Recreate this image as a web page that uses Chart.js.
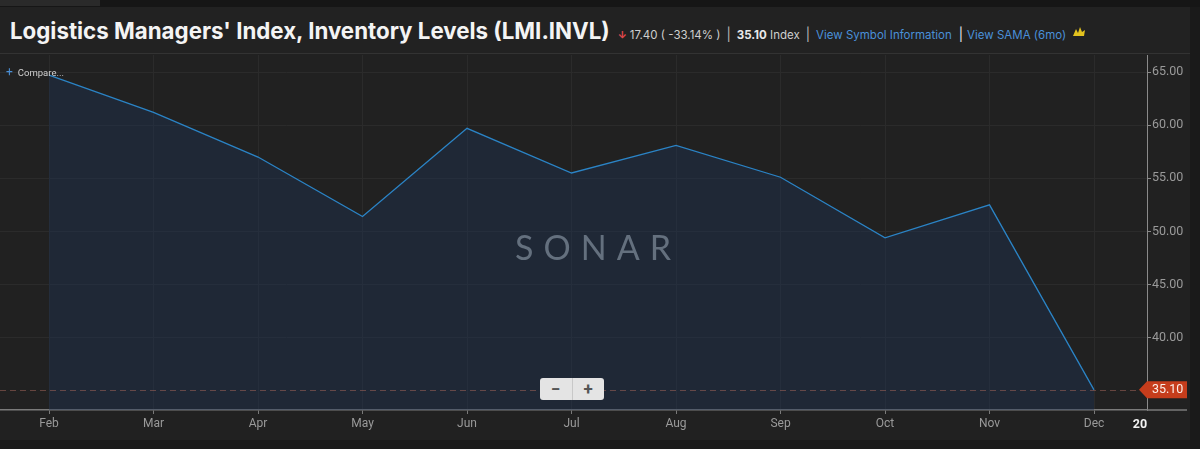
<!DOCTYPE html>
<html><head><meta charset="utf-8">
<script src="https://cdn.jsdelivr.net/npm/chart.js@4.4.0/dist/chart.umd.min.js"></script>
<style>
html,body{margin:0;padding:0;background:#1a1a1a;width:1200px;height:449px;overflow:hidden;font-family:Roboto,"Noto Sans",sans-serif;}
#topstrip{position:absolute;left:0;top:0;width:1200px;height:7px;background:#161616;}
#topstrip2{position:absolute;left:0;top:0;width:100px;height:6px;background:#2a2a2a;}
#header{position:absolute;left:0;top:7px;width:1190px;height:46px;background:#222222;border-bottom:1px solid #333;}
#hrow{position:absolute;left:10px;top:10px;display:flex;align-items:baseline;white-space:nowrap;font-family:Inter,Roboto,sans-serif;}
#title{font-size:22.3px;font-weight:700;color:#f4f4f4;letter-spacing:0px;}
.sm{font-size:11.5px;color:#cfcfcf;}
.sep{font-size:13px;color:#bbb;margin:0 6px;}
.lnk{font-size:11.5px;color:#4a90d9;}
#plotbg{position:absolute;left:0;top:54px;width:1190px;height:386px;background:#212121;}
#wrap{position:absolute;left:0;top:55px;width:1190px;height:385px;}
#compare{position:absolute;left:6px;top:65px;font-size:9.5px;color:#cfcfcf;}
#compare b{color:#4a8fd6;font-size:12px;font-weight:400;margin-right:5px;}
#zoombtn{position:absolute;left:540px;top:378px;width:64px;height:22px;background:#e4e4e4;border-radius:3px;display:flex;}
#zoombtn div{flex:1;text-align:center;font-size:17px;font-weight:700;color:#555;line-height:22px;}
#zoombtn div:first-child{border-right:1px solid #c8c8c8;}
</style></head>
<body>
<div id="topstrip"></div><div id="topstrip2"></div>
<div id="header">
  <div id="hrow">
    <span id="title">Logistics Managers' Index, Inventory Levels (LMI.INVL)</span>
    <span class="sm" style="color:#e5484d;margin-left:8px;font-size:10px;font-weight:700;">↓</span>
    <span class="sm" style="margin-left:3px;">17.40 ( -33.14% )</span>
    <span class="sep">|</span>
    <span class="sm"><b style="color:#e8e8e8">35.10</b> Index</span>
    <span class="sep">|</span>
    <span class="lnk">View Symbol Information</span>
    <span class="sep" style="color:#eee;margin:0 4px 0 7px;">|</span>
    <span class="lnk">View SAMA (6mo)</span>
    <svg width="16" height="14" viewBox="0 0 16 14" style="margin-left:5px;align-self:center;"><path d="M2 12 L5 5 L7 9 L9 3 L11 8 L14 6 L13 12 Z" fill="#e3c21e"/></svg>
  </div>
</div>
<div id="plotbg"></div>
<div id="wrap"><canvas id="c"></canvas></div>
<div id="compare"><b>+</b>Compare...</div>
<div id="zoombtn"><div>−</div><div>+</div></div>
<script>
const months = ['Feb','Mar','Apr','May','Jun','Jul','Aug','Sep','Oct','Nov','Dec'];
const inventory = [64.7, 61.2, 57.0, 51.4, 59.7, 55.5, 58.1, 55.1, 49.4, 52.5, 35.1];
const yTicks = [40, 45, 50, 55, 60, 65];
const yearLabel = '20';
const yearPos = 10.44;
const lastValue = 35.10;
const watermark = 'SONAR';

const overlay = {
  id: 'overlay',
  afterDatasetsDraw(chart) {
    const {ctx, chartArea: a, scales: {x, y}} = chart;
    ctx.save();
    ctx.font = '400 34px Lato, "Open Sans", sans-serif';
    ctx.letterSpacing = '10px';
    ctx.fillStyle = 'rgba(108,120,134,0.9)';
    ctx.textAlign = 'center';
    ctx.textBaseline = 'middle';
    ctx.fillText(watermark, 598, y.getPixelForValue(48.3));
    ctx.letterSpacing = '0px';
    const py = y.getPixelForValue(lastValue);
    ctx.setLineDash([6, 4]);
    ctx.strokeStyle = 'rgba(160,100,90,0.55)';
    ctx.lineWidth = 1;
    ctx.beginPath();
    ctx.moveTo(a.left, Math.round(py) + 0.5);
    ctx.lineTo(a.right - 8, Math.round(py) + 0.5);
    ctx.stroke();
    ctx.setLineDash([]);
    ctx.restore();
  },
  afterDraw(chart) {
    const {ctx, chartArea: a, scales: {y}} = chart;
    ctx.save();
    ctx.strokeStyle = '#7a7a7a';
    ctx.lineWidth = 1.5;
    ctx.beginPath();
    ctx.moveTo(a.right, a.bottom);
    ctx.lineTo(a.right + 40, a.bottom);
    ctx.stroke();
    const py = y.getPixelForValue(lastValue);
    const h = 17;
    ctx.fillStyle = '#c63d1c';
    ctx.beginPath();
    ctx.moveTo(a.right - 8, py);
    ctx.lineTo(a.right, py - h / 2);
    ctx.lineTo(a.right + 40, py - h / 2);
    ctx.lineTo(a.right + 40, py + h / 2);
    ctx.lineTo(a.right, py + h / 2);
    ctx.closePath();
    ctx.fill();
    ctx.fillStyle = '#fbeee8';
    ctx.font = '12.5px Roboto, sans-serif';
    ctx.textAlign = 'left';
    ctx.textBaseline = 'middle';
    ctx.fillText(lastValue.toFixed(2), a.right + 5, py + 0.5);
    ctx.restore();
  }
};

new Chart(document.getElementById('c'), {
  type: 'line',
  data: {
    datasets: [{
      data: months.map((m, i) => ({x: i, y: inventory[i]})),
      borderColor: '#2b84c6',
      borderWidth: 1.3,
      backgroundColor: 'rgba(28,50,84,0.42)',
      fill: 'start',
      pointRadius: 0,
      tension: 0
    }]
  },
  options: {
    responsive: true,
    maintainAspectRatio: false,
    animation: false,
    layout: {padding: 0},
    plugins: {legend: {display: false}, tooltip: {enabled: false}},
    scales: {
      x: {
        type: 'linear',
        min: -0.469,
        max: 10.507,
        afterBuildTicks(s) { s.ticks = months.map((m, i) => ({value: i})).concat([{value: yearPos}]); },
        afterFit(s) { s.height = 30; s.paddingLeft = 0; s.paddingRight = 0; },
        ticks: {
          autoSkip: false,
          maxRotation: 0,
          padding: 3,
          callback: (v) => (v === yearPos ? yearLabel : months[v]),
          color: (c) => (c.tick && c.tick.value === yearPos ? '#f2f2f2' : '#9a9a9a'),
          font: (c) => (c.tick && c.tick.value === yearPos ? {size: 12.5, weight: 'bold', family: 'Roboto'} : {size: 12, family: 'Roboto'})
        },
        grid: {
          color: (c) => (c.tick && c.tick.value === yearPos ? 'rgba(0,0,0,0)' : '#2b2b2b'),
          tickColor: (c) => (c.tick && c.tick.value === yearPos ? 'rgba(0,0,0,0)' : '#7a7a7a'),
          tickLength: 4,
          lineWidth: 1
        },
        border: {color: '#7a7a7a', width: 1.5}
      },
      y: {
        position: 'right',
        min: 33.2,
        max: 66.6,
        afterBuildTicks(s) { s.ticks = yTicks.map(v => ({value: v})); },
        afterFit(s) { s.width = 43; s.paddingTop = 0; s.paddingBottom = 0; },
        ticks: {
          padding: 1,
          color: '#9a9a9a',
          font: {size: 12.5, family: 'Roboto'},
          callback: (v) => Number(v).toFixed(2)
        },
        grid: {color: '#2b2b2b', tickColor: '#8a8a8a', tickLength: 4},
        border: {color: '#8a8a8a', width: 1}
      }
    }
  },
  plugins: [overlay]
});
</script>
</body></html>
